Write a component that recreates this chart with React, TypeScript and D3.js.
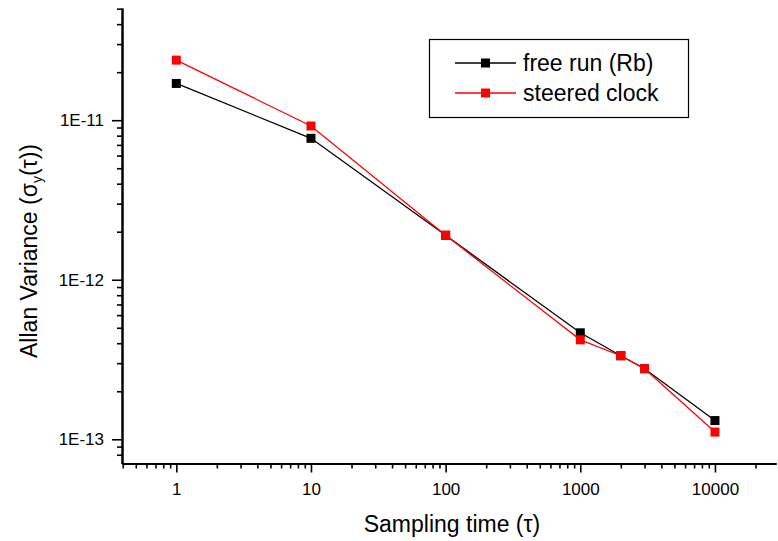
import React, { useEffect, useRef } from 'react';
import * as d3 from 'd3';

// sampling time (tau), seconds
const tau = [1, 10, 100, 1000, 2000, 3000, 10000];
// Allan deviation
const freeRun = [1.7e-11, 7.7e-12, 1.9e-12, 4.65e-13, 3.34e-13, 2.77e-13, 1.31e-13];
const steered = [2.38e-11, 9.2e-12, 1.9e-12, 4.2e-13, 3.34e-13, 2.77e-13, 1.11e-13];

const xMajor = [1, 10, 100, 1000, 10000];
const xLabels = ['1', '10', '100', '1000', '10000'];
const yMajor = [1e-11, 1e-12, 1e-13];
const yLabels = ['1E-11', '1E-12', '1E-13'];

const seriesNames = ['free run (Rb)', 'steered clock'];
const seriesColors = ['#000000', '#ff0000'];

const FONT = '"Liberation Sans", Arial, sans-serif';

function minorTicks(lo: number, hi: number) {
  const out: number[] = [];
  for (let e = Math.floor(Math.log10(lo)); e <= Math.ceil(Math.log10(hi)); e++) {
    for (let m = 2; m <= 9; m++) {
      const v = m * Math.pow(10, e);
      if (v >= lo && v <= hi) out.push(v);
    }
  }
  return out;
}

export default function App() {
  const ref = useRef<SVGSVGElement>(null);

  useEffect(() => {
    const svg = d3.select(ref.current);
    svg.selectAll('*').remove();

    const left = 122, right = 776, top = 8, bottom = 463.5;
    const xDom: [number, number] = [0.395, 28400];
    const yDom: [number, number] = [7.05e-14, 5.05e-11];

    const x = d3.scaleLog().domain(xDom).range([left, right]);
    const y = d3.scaleLog().domain(yDom).range([bottom, top]);

    // x axis: minor and major ticks in their own groups
    svg.append('g').attr('transform', `translate(0,${bottom})`)
      .call(d3.axisBottom(x).tickValues(minorTicks(xDom[0], xDom[1])).tickSize(5)
        .tickFormat(() => '').tickSizeOuter(0));
    svg.append('g').attr('transform', `translate(0,${bottom})`)
      .call(d3.axisBottom(x).tickValues(xMajor).tickSize(9).tickPadding(10).tickSizeOuter(0)
        .tickFormat((d, i) => xLabels[i]) as any);

    // y axis
    svg.append('g').attr('transform', `translate(${left},0)`)
      .call(d3.axisLeft(y).tickValues(minorTicks(yDom[0], yDom[1])).tickSize(5)
        .tickFormat(() => '').tickSizeOuter(0));
    svg.append('g').attr('transform', `translate(${left},0)`)
      .call(d3.axisLeft(y).tickValues(yMajor).tickSize(10).tickPadding(8).tickSizeOuter(0)
        .tickFormat((d, i) => yLabels[i]) as any);

    svg.selectAll('.domain').attr('stroke', '#000').attr('stroke-width', 2);
    svg.selectAll('.tick line').attr('stroke', '#000').attr('stroke-width', 1.6);
    svg.selectAll('.tick text').attr('font-family', FONT).attr('font-size', 17).attr('fill', '#000');

    // series, red drawn last so it sits on top
    const line = d3.line<number>().x((d, i) => x(tau[i])).y(d => y(d));
    [freeRun, steered].forEach((vals, s) => {
      const g = svg.append('g');
      g.append('path').attr('d', line(vals)!).attr('fill', 'none')
        .attr('stroke', seriesColors[s]).attr('stroke-width', 1.3);
      g.selectAll('rect').data(vals).join('rect')
        .attr('x', (d, i) => x(tau[i]) - 4.5).attr('y', d => y(d) - 4.5)
        .attr('width', 9).attr('height', 9).attr('fill', seriesColors[s]);
    });

    // legend
    const lg = svg.append('g');
    lg.append('rect').attr('x', 429.5).attr('y', 39.5).attr('width', 259).attr('height', 78)
      .attr('fill', '#fff').attr('stroke', '#000').attr('stroke-width', 1.2);
    seriesNames.forEach((name, s) => {
      const cy = 63 + s * 30;
      lg.append('line').attr('x1', 455).attr('x2', 516).attr('y1', cy).attr('y2', cy)
        .attr('stroke', seriesColors[s]).attr('stroke-width', 1.3);
      lg.append('rect').attr('x', 481).attr('y', cy - 4.5).attr('width', 9).attr('height', 9)
        .attr('fill', seriesColors[s]);
      lg.append('text').attr('x', 523).attr('y', cy + 8).attr('font-family', FONT)
        .attr('font-size', 23).text(name);
    });

    // axis titles
    svg.append('text').attr('x', 452).attr('y', 532).attr('text-anchor', 'middle')
      .attr('font-family', FONT).attr('font-size', 23)
      .text('Sampling time (τ)');

    const yt = svg.append('text').attr('transform', 'translate(37,251) rotate(-90)')
      .attr('text-anchor', 'middle').attr('font-family', FONT).attr('font-size', 23);
    yt.append('tspan').text('Allan Variance (σ');
    yt.append('tspan').attr('font-size', 14).attr('dy', 5).text('y');
    yt.append('tspan').attr('dy', -5).text('(τ))');
  }, []);

  return (
    <svg ref={ref} width={778} height={541}
      style={{ position: 'absolute', left: 0, top: 0, background: '#fff' }} />
  );
}
